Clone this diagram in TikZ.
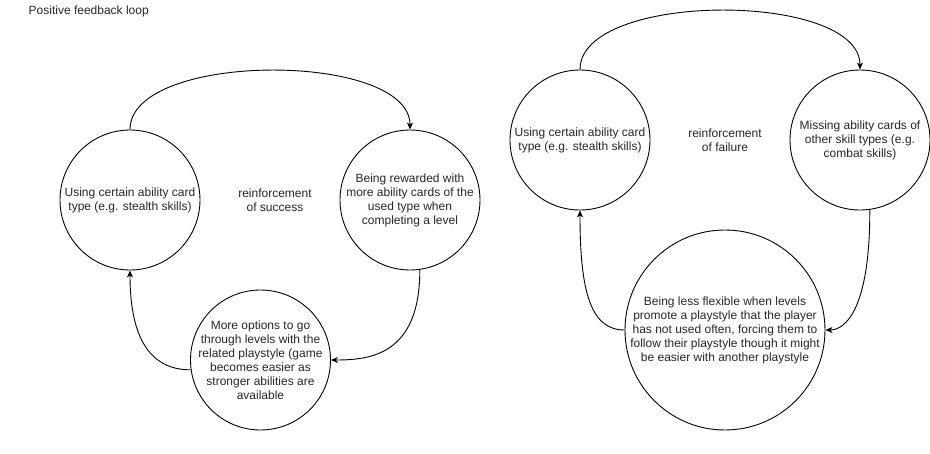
\documentclass[tikz,border=0pt]{standalone}
\usepackage{fontspec}
\setmainfont{Liberation Sans}
\usetikzlibrary{arrows.meta}
\begin{document}
\begin{tikzpicture}[x=1pt,y=-1pt,
  circ/.style={circle,draw,line width=0.9pt,inner sep=0pt,minimum size=#1},
  txt/.style={align=center,font=\fontsize{12}{14}\selectfont,inner sep=0pt,text=black!85},
  conn/.style={line width=0.9pt,-{Stealth[length=7pt,width=6pt,inset=2pt]}}]
\useasboundingbox (0,0) rectangle (930,453);
\node[txt,anchor=west] (title) at (28.5,11) {Positive feedback loop};
% left loop
\node[circ=140pt] (A) at (130,200) {};
\node[circ=140pt] (B) at (410,200) {};
\node[circ=140pt] (C) at (260.5,360) {};
\node[txt] (At) at (A) {Using certain ability card\\type (e.g. stealth skills)};
\node[txt] (Bt) at (B) {Being rewarded with\\more ability cards of the\\used type when\\completing a level};
\node[txt] (Ct) at (C) {More options to go\\through levels with the\\related playstyle (game\\becomes easier as\\stronger abilities are\\available};
\node[txt] (L1) at (275,200) {reinforcement\\of success};
\draw[conn] (A.north) .. controls (130,51) and (410,51) .. (B.north);
\draw[conn] (B.278) .. controls (420,355) and (370,360) .. (C.east);
\draw[conn] (C.188) .. controls (140,370) and (130,320) .. (A.south);
% right loop
\node[circ=140pt] (D) at (580,140) {};
\node[circ=140pt] (E) at (860,140) {};
\node[circ=200pt] (F) at (725,330) {};
\node[txt] (Dt) at (D) {Using certain ability card\\type (e.g. stealth skills)};
\node[txt] (Et) at (E) {Missing ability cards of\\other skill types (e.g.\\combat skills)};
\node[txt] (Ft) at (F) {Being less flexible when levels\\promote a playstyle that the player\\has not used often, forcing them to\\follow their playstyle though it might\\be easier with another playstyle};
\node[txt] (L2) at (725,140) {reinforcement\\of failure};
\draw[conn] (D.north) .. controls (580,-9) and (860,-9) .. (E.north);
\draw[conn] (E.278) .. controls (870,310) and (845,330) .. (F.east);
\draw[conn] (F.west) .. controls (590,330) and (580,290) .. (D.south);
\end{tikzpicture}
\end{document}
